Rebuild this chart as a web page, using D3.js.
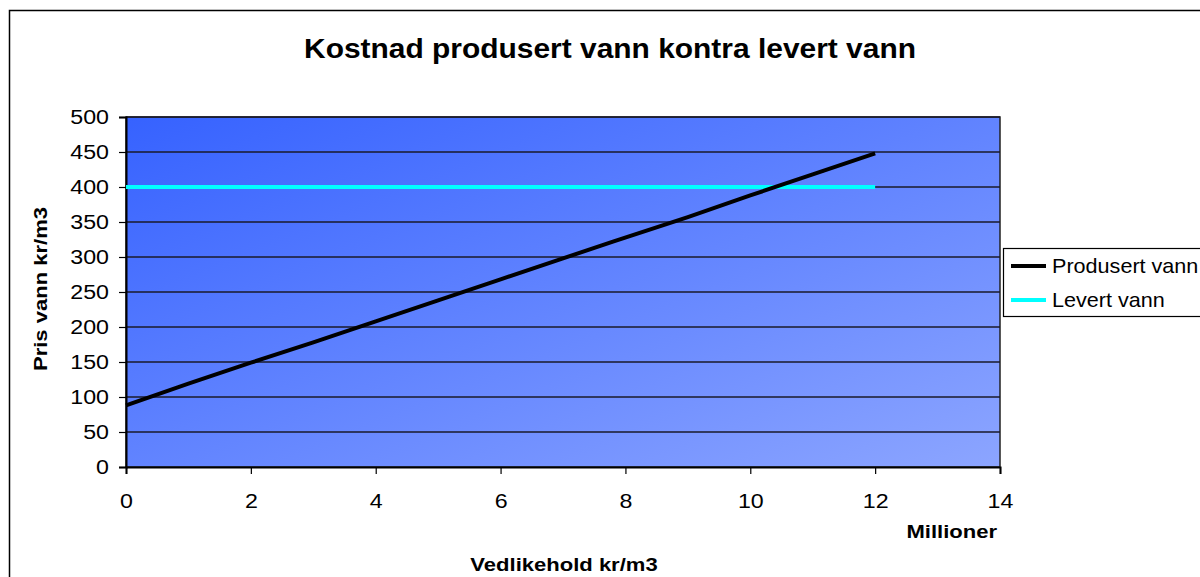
<!DOCTYPE html>
<html><head><meta charset="utf-8">
<script src="https://cdn.jsdelivr.net/npm/d3@7"></script>
<style>
html,body{margin:0;padding:0;background:#fff;}
svg{display:block;}
text{font-family:"Liberation Sans",Arial,sans-serif;fill:#000;}
</style></head>
<body>
<svg id="c" width="1200" height="577"></svg>
<script>
const title = "Kostnad produsert vann kontra levert vann";
const xTitle = "Vedlikehold kr/m3";
const xUnit = "Millioner";
const yTitle = "Pris vann kr/m3";
const seriesNames = ["Produsert vann", "Levert vann"];
const xTicks = [0, 2, 4, 6, 8, 10, 12, 14];
const yTicks = [0, 50, 100, 150, 200, 250, 300, 350, 400, 450, 500];
const produsertX = [0, 1, 2, 3, 4, 5, 6, 7, 7.8, 9, 10, 11, 12];
const produsertY = [88, 119, 149, 178, 208, 238, 268, 298, 322, 357, 388, 418, 448];
const levertX = [0, 12];
const levertY = [400, 400];

const svg = d3.select("#c");
const SX = 1.16;
const m = {l:126, t:117, r:1000, b:467};
const x = d3.scaleLinear().domain([0,14]).range([m.l, m.r]);
const y = d3.scaleLinear().domain([0,500]).range([m.b, m.t]);

// outer frame
svg.append("rect").attr("x",9.5).attr("y",10.5).attr("width",1300).attr("height",700)
  .attr("fill","#fff").attr("stroke","#000").attr("stroke-width",1.5);

// gradient
const defs = svg.append("defs");
const g = defs.append("linearGradient").attr("id","bg")
  .attr("x1","0").attr("y1","0").attr("x2","1").attr("y2","1");
g.append("stop").attr("offset","0%").attr("stop-color","#3662ff");
g.append("stop").attr("offset","100%").attr("stop-color","#8ca5ff");

svg.append("rect").attr("x",m.l).attr("y",m.t).attr("width",m.r-m.l).attr("height",m.b-m.t)
  .attr("fill","url(#bg)").attr("stroke","#222").attr("stroke-width",1.5);

// gridlines
svg.append("g").selectAll("line").data(yTicks.filter(d=>d>0)).join("line")
  .attr("x1",m.l).attr("x2",m.r).attr("y1",d=>y(d)).attr("y2",d=>y(d))
  .attr("stroke","#1a1a2a").attr("stroke-width",1.5);

// axes
const yAxis = svg.append("g").attr("transform",`translate(${m.l},0)`)
  .call(d3.axisLeft(y).tickValues(yTicks).tickSize(7).tickPadding(10));
const xAxis = svg.append("g").attr("transform",`translate(0,${m.b})`)
  .call(d3.axisBottom(x).tickValues(xTicks).tickSize(7).tickPadding(20));
[yAxis,xAxis].forEach(a=>{
  a.select(".domain").attr("stroke","#000").attr("stroke-width",2);
  a.selectAll(".tick line").attr("stroke","#000").attr("stroke-width",1.2);
  a.selectAll(".tick text").attr("font-size",20).attr("font-family","Liberation Sans, Arial, sans-serif").attr("fill","#000");
});
yAxis.selectAll(".tick text").attr("transform",function(){
  const xx=+this.getAttribute("x"); return `translate(${xx},0) scale(${SX},1) translate(${-xx},0)`;
});
xAxis.selectAll(".tick text").attr("transform",`scale(${SX},1)`);

// lines
const line = d3.line().x(d=>x(d[0])).y(d=>y(d[1]));
svg.append("path").datum(levertX.map((v,i)=>[v,levertY[i]])).attr("d",line)
  .attr("fill","none").attr("stroke","#00ffff").attr("stroke-width",4);
svg.append("path").datum(produsertX.map((v,i)=>[v,produsertY[i]])).attr("d",line)
  .attr("fill","none").attr("stroke","#000").attr("stroke-width",4).attr("stroke-linejoin","round");

// title
svg.append("text").attr("transform",`translate(610,58) scale(1.05,1)`)
  .attr("text-anchor","middle").attr("font-size",28.5).attr("font-weight","bold").text(title);

// axis titles
svg.append("text").attr("transform",`translate(564,571) scale(${SX},1)`)
  .attr("text-anchor","middle").attr("font-size",19).attr("font-weight","bold").text(xTitle);
svg.append("text").attr("transform",`translate(997,538) scale(${SX},1)`)
  .attr("text-anchor","end").attr("font-size",19).attr("font-weight","bold").text(xUnit);
svg.append("text").attr("transform",`translate(47,289) rotate(-90) scale(${SX},1)`)
  .attr("text-anchor","middle").attr("font-size",19).attr("font-weight","bold").text(yTitle);

// legend
const lg = svg.append("g");
lg.append("rect").attr("x",1003.5).attr("y",248.5).attr("width",210).attr("height",68)
  .attr("fill","#fff").attr("stroke","#000").attr("stroke-width",1.2);
const colors = ["#000","#00ffff"];
seriesNames.forEach((n,i)=>{
  const yy = 266 + i*34;
  lg.append("line").attr("x1",1011).attr("x2",1046).attr("y1",yy).attr("y2",yy)
    .attr("stroke",colors[i]).attr("stroke-width",4);
  lg.append("text").attr("transform",`translate(1052,${yy+7}) scale(1.08,1)`)
    .attr("font-size",20).text(n);
});
</script>
</body></html>
